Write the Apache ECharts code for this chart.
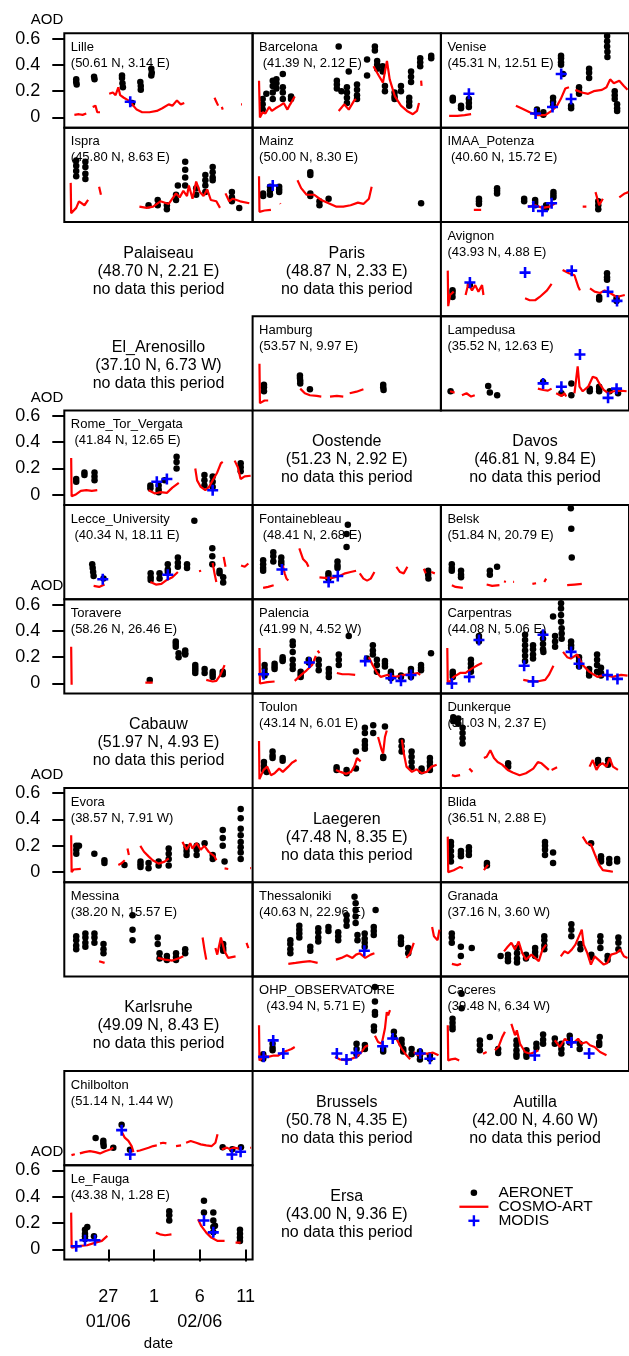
<!DOCTYPE html>
<html><head><meta charset="utf-8">
<script src="https://cdn.jsdelivr.net/npm/echarts@6/dist/echarts.min.js"></script>
<style>html,body{margin:0;padding:0;background:#fff}#c{width:629px;height:1356px}</style>
</head><body><div id="c"></div>
<script>
// ---------------- tick labels ----------------
const xTickValues = [27, 32, 37, 42];
const xTickLabels = ['27\n01/06', '1', '6\n02/06', '11'];
const yTickValues = [0, 0.2, 0.4, 0.6];
const yTickLabels = ['0', '0.2', '0.4', '0.6'];

// ---------------- data: [day, AOD]  (day: Jan d = d, Feb d = 31+d) ----------------
const lilleAer = [[23.5,0.29],[23.5,0.27],[23.55,0.25],[25.45,0.31],[25.5,0.29],[28.5,0.32],[28.5,0.30],[28.55,0.26],[28.6,0.23],[29.6,0.11],[30.5,0.27],[30.55,0.24],[30.55,0.21],[31.7,0.37],[31.75,0.34],[31.7,0.32]];
const lilleCos = [[[23.3,0.02],[23.8,0.025],[24.2,0.02],[24.6,0.03]],[[25.3,0.08],[25.6,0.09],[25.8,0.04],[26.1,0.04]],[[27.1,0.18],[27.5,0.19],[27.8,0.17],[28.1,0.23],[28.3,0.17],[28.7,0.15],[29.2,0.13],[29.6,0.10],[30.1,0.06],[30.7,0.04],[31.5,0.04],[32.3,0.05],[32.9,0.07],[33.6,0.10],[34.0,0.09],[34.5,0.13],[34.9,0.10],[35.3,0.11]],[[38.6,0.15],[38.8,0.12],[39.0,0.09]],[[39.4,0.08],[39.5,0.06]],[[41.5,0.10],[41.6,0.10]]];
const lilleMod = [[29.4,0.12]];

const barcelonaAer = [[23.3,0.14],[23.3,0.10],[23.3,0.06],[23.7,0.18],[24.4,0.28],[24.4,0.24],[24.4,0.19],[24.4,0.14],[24.8,0.29],[24.8,0.26],[24.8,0.22],[25.5,0.33],[25.5,0.23],[25.5,0.19],[25.5,0.14],[26.4,0.16],[26.4,0.14],[31.4,0.28],[31.4,0.25],[31.4,0.22],[31.6,0.54],[31.9,0.20],[32.5,0.23],[32.5,0.19],[32.5,0.15],[32.5,0.11],[32.7,0.35],[33.6,0.25],[33.6,0.21],[33.6,0.17],[33.6,0.14],[34.7,0.44],[34.7,0.32],[35.55,0.54],[35.55,0.51],[35.8,0.43],[35.8,0.40],[35.8,0.37],[36.4,0.39],[36.4,0.35],[36.65,0.24],[36.65,0.20],[37.7,0.19],[37.7,0.16],[37.7,0.14],[38.4,0.24],[38.4,0.20],[39.3,0.15],[39.3,0.12],[39.3,0.09],[39.5,0.35],[39.5,0.31],[39.5,0.27],[40.5,0.45],[40.5,0.42],[40.5,0.39],[41.7,0.47],[41.7,0.45]];
const barcelonaCos = [[[22.9,0.28],[23.0,0.0],[23.3,0.04],[23.6,0.03],[24.0,0.08],[24.3,0.05],[24.7,0.07],[25.2,0.09],[25.6,0.11],[26.0,0.06],[26.3,0.10],[26.8,0.16]],[[31.6,0.05],[32.2,0.10],[32.7,0.06],[33.3,0.13],[33.5,0.14]],[[35.4,0.39],[36.0,0.315],[36.43,0.265],[36.87,0.43],[37.17,0.29],[37.74,0.16],[38.4,0.09],[39.06,0.05],[39.7,0.025],[40.15,0.05],[40.37,0.11]],[[40.6,0.28],[40.65,0.24]]];
const barcelonaMod = [];

const veniseAer = [[23.5,0.15],[23.5,0.14],[23.5,0.13],[24.4,0.09],[24.4,0.07],[25.26,0.14],[25.26,0.11],[25.26,0.08],[32.7,0.06],[32.7,0.04],[33.4,0.04],[33.4,0.02],[34.46,0.15],[34.46,0.12],[34.46,0.09],[35.33,0.47],[35.33,0.45],[35.33,0.42],[35.33,0.40],[35.55,0.33],[36.43,0.09],[36.43,0.07],[37.3,0.23],[37.3,0.20],[37.3,0.18],[38.4,0.37],[38.4,0.34],[38.4,0.30],[40.37,0.62],[40.37,0.58],[40.37,0.54],[40.4,0.50],[40.4,0.46],[41.2,0.20],[41.2,0.17],[41.2,0.14],[41.46,0.10],[41.46,0.07],[41.46,0.05]];
const veniseCos = [[[23.1,0.012],[24.0,0.012],[24.8,0.018],[25.5,0.025]],[[30.4,0.09],[31.0,0.07],[31.9,0.04],[32.7,0.018],[33.6,0.018],[34.3,0.05],[34.9,0.09],[35.3,0.14],[35.8,0.22],[36.2,0.23]],[[36.9,0.21],[37.6,0.19],[38.3,0.18],[38.9,0.20],[39.8,0.21],[40.3,0.23],[40.7,0.29],[41.1,0.26],[41.7,0.28],[42.2,0.24],[42.6,0.21]]];
const veniseMod = [[25.26,0.18],[32.55,0.03],[34.4,0.08],[35.35,0.33],[36.43,0.14]];

const ispraAer = [[23.5,0.39],[23.5,0.35],[23.5,0.31],[23.5,0.27],[24.5,0.38],[24.5,0.34],[24.5,0.29],[24.5,0.25],[31.4,0.05],[32.4,0.09],[32.4,0.05],[33.4,0.05],[33.4,0.02],[34.4,0.13],[34.4,0.09],[34.6,0.20],[35.4,0.38],[35.4,0.32],[35.4,0.26],[35.4,0.20],[36.6,0.18],[36.6,0.13],[37.6,0.28],[37.6,0.24],[37.6,0.20],[37.6,0.15],[38.4,0.34],[38.4,0.30],[38.4,0.26],[38.4,0.24],[40.5,0.15],[40.5,0.11],[40.5,0.08],[41.3,0.03]];
const ispraCos = [[[22.9,0.22],[22.95,-0.01],[23.1,0.0],[23.5,0.03],[23.8,0.08],[24.4,0.05],[24.8,0.09]],[[26.0,0.19],[26.2,0.13]],[[30.4,0.04],[31.2,0.03],[31.9,0.04],[32.7,0.08],[33.6,0.06],[34.4,0.14],[34.8,0.11],[35.2,0.16],[35.6,0.12],[35.8,0.20],[36.2,0.10],[36.6,0.23],[37.0,0.15],[37.4,0.12],[37.8,0.17],[38.2,0.09],[38.8,0.08],[39.2,0.03]],[[39.8,0.14],[40.2,0.08],[40.6,0.10],[41.4,0.08],[42.4,0.065]]];
const ispraMod = [];

const mainzAer = [[23.35,0.14],[23.35,0.12],[24.1,0.19],[24.1,0.16],[24.1,0.13],[25.1,0.19],[25.1,0.17],[25.1,0.15],[28.5,0.30],[28.5,0.28],[28.5,0.14],[28.5,0.12],[29.5,0.08],[29.5,0.05],[30.5,0.10],[40.6,0.065]];
const mainzCos = [[[22.9,0.27],[22.95,0.0],[23.5,0.01],[24.2,0.015]],[[25.2,0.065],[25.25,0.06]],[[27.1,0.24],[27.5,0.18],[28.1,0.13],[28.9,0.13],[29.7,0.09],[30.5,0.065],[31.3,0.04],[32.1,0.04],[32.9,0.05],[33.7,0.07],[34.3,0.06],[34.9,0.10],[35.2,0.19]],[[36.0,0.04],[36.05,0.04]]];
const mainzMod = [[24.4,0.20]];

const imaaAer = [[26.36,0.10],[26.36,0.08],[26.36,0.06],[28.34,0.18],[28.34,0.16],[28.34,0.14],[31.3,0.10],[31.3,0.08],[32.5,0.09],[32.5,0.07],[32.5,0.05],[33.7,0.05],[33.7,0.03],[34.5,0.15],[34.5,0.13],[34.5,0.11],[39.4,0.08],[39.4,0.05],[39.4,0.02]];
const imaaCos = [[[25.8,0.015],[26.6,0.015]],[[31.7,0.04],[32.5,0.05],[33.3,0.03],[34.1,0.04],[34.7,0.065]],[[37.7,0.04],[38.1,0.04]],[[39.1,0.15],[39.5,0.05],[39.9,0.10]],[[41.7,0.11],[42.3,0.14],[42.7,0.15]]];
const imaaMod = [[32.3,0.04],[33.3,0.006],[34.3,0.065]];

const avignonAer = [[23.47,0.12],[23.47,0.10],[23.47,0.07],[25.37,0.16],[39.5,0.07],[39.5,0.05],[40.36,0.25],[40.36,0.22],[40.36,0.20],[41.4,0.06],[41.4,0.04]];
const avignonCos = [[[22.95,0.27],[23.0,0.0],[23.2,0.085],[23.6,0.11]],[[24.9,0.085],[25.2,0.17],[25.6,0.12],[25.95,0.16],[26.3,0.11],[26.7,0.16],[26.85,0.085]],[[30.5,0.075],[30.55,0.075]],[[31.4,0.06],[31.9,0.045],[32.5,0.045],[33.0,0.07],[33.8,0.12],[34.3,0.17]],[[35.5,0.275],[36.2,0.25],[36.8,0.235],[37.2,0.15],[37.4,0.12]],[[38.5,0.135],[39.0,0.11],[39.6,0.10],[40.1,0.12],[40.7,0.10],[41.4,0.07],[42.3,0.085]]];
const avignonMod = [[25.37,0.18],[31.4,0.255],[36.5,0.27],[40.46,0.11],[41.45,0.04]];

const hamburgAer = [[23.44,0.12],[23.44,0.10],[23.44,0.07],[27.37,0.19],[27.37,0.17],[27.4,0.15],[27.4,0.13],[28.46,0.085],[36.46,0.12],[36.46,0.10],[36.5,0.08]];
const hamburgCos = [[[22.95,0.28],[23.0,-0.02],[23.5,0.0],[23.9,0.0]],[[27.4,0.09],[27.9,0.055],[28.46,0.04],[29.2,0.035],[29.7,0.03]],[[30.65,0.03],[31.4,0.035],[32.1,0.03]],[[32.8,0.055],[33.55,0.067],[34.3,0.085]]];
const hamburgMod = [];

const lampedusaAer = [[23.26,0.07],[27.37,0.11],[27.55,0.06],[28.35,0.04],[33.37,0.14],[35.37,0.055],[36.46,0.13],[36.46,0.04],[38.47,0.09],[38.47,0.07],[39.5,0.105],[39.5,0.09],[39.5,0.07],[40.65,0.07],[41.56,0.055]];
const lampedusaCos = [[[23.2,0.07],[23.7,0.06]],[[24.5,0.04],[25.0,0.055],[25.5,0.03],[25.9,0.04]],[[32.8,0.09],[33.4,0.08],[33.9,0.075],[34.3,0.09]],[[34.8,0.055],[35.4,0.035],[35.7,0.055],[35.9,0.03]],[[36.8,0.055],[37.15,0.26],[37.35,0.105],[37.7,0.07],[38.3,0.105],[38.8,0.18],[39.2,0.17],[39.6,0.12],[40.0,0.08],[40.5,0.055],[41.1,0.07],[41.8,0.075],[42.5,0.07]]];
const lampedusaMod = [[33.37,0.13],[35.37,0.105],[37.4,0.35],[40.47,0.02],[41.4,0.09]];

const romeAer = [[23.5,0.12],[23.5,0.10],[24.4,0.17],[24.4,0.15],[25.5,0.17],[25.5,0.14],[25.5,0.11],[31.6,0.07],[31.6,0.05],[32.5,0.07],[32.5,0.04],[32.5,0.02],[33.15,0.11],[34.46,0.29],[34.46,0.25],[34.46,0.20],[37.5,0.15],[37.5,0.11],[37.5,0.07],[38.4,0.14],[38.4,0.10],[38.4,0.06],[41.46,0.24],[41.46,0.21],[41.46,0.18]];
const romeCos = [[[22.95,0.28],[23.0,-0.01],[23.4,0.0],[24.0,0.03],[24.6,0.035],[25.2,0.03],[25.8,0.035]],[[31.4,0.035],[32.1,0.01],[32.7,0.02],[33.4,0.015],[34.0,0.055],[34.7,0.09]],[[36.5,0.20],[36.7,0.11],[37.1,0.06],[37.6,0.035],[38.0,0.06],[38.4,0.11],[38.9,0.17],[39.3,0.24],[39.5,0.25]],[[40.8,0.26],[41.15,0.21],[41.45,0.12],[41.9,0.14],[42.55,0.145]]];
const romeMod = [[32.3,0.10],[33.4,0.12],[38.4,0.035]];

const lecceAer = [[25.25,0.19],[25.3,0.16],[25.35,0.13],[25.4,0.10],[26.48,0.08],[31.63,0.12],[31.63,0.09],[31.63,0.07],[32.6,0.12],[32.6,0.08],[33.5,0.19],[33.5,0.15],[33.5,0.13],[34.6,0.24],[34.6,0.20],[34.6,0.17],[35.6,0.19],[35.6,0.16],[36.4,0.52],[38.36,0.31],[38.36,0.25],[38.36,0.19],[39.15,0.14],[39.15,0.12],[39.55,0.09],[39.55,0.05]];
const lecceCos = [[[25.4,0.025],[26.0,0.017],[26.6,0.035]],[[30.1,0.055],[30.15,0.055]],[[31.6,0.055],[32.2,0.035],[32.8,0.04],[33.4,0.07],[34.0,0.09],[34.6,0.13]],[[37.0,0.145],[37.05,0.13]],[[38.4,0.20],[38.6,0.12],[38.8,0.055]],[[39.6,0.245],[39.8,0.17]],[[41.5,0.18],[41.9,0.17],[42.3,0.195]]];
const lecceMod = [[26.4,0.075],[33.5,0.11]];

const fontainebleauAer = [[23.35,0.22],[23.35,0.19],[23.35,0.16],[23.35,0.14],[24.46,0.28],[24.46,0.25],[24.46,0.21],[25.33,0.24],[25.33,0.21],[25.33,0.19],[30.48,0.12],[30.48,0.10],[30.48,0.08],[31.47,0.21],[31.47,0.18],[31.47,0.16],[32.46,0.32],[32.46,0.42],[32.6,0.49],[41.37,0.14],[41.37,0.11],[41.4,0.08]];
const fontainebleauCos = [[[23.35,0.01],[23.9,0.017],[24.5,0.03]],[[25.5,0.18],[25.7,0.12],[25.9,0.08],[26.1,0.065]],[[27.3,0.31],[27.7,0.23],[28.1,0.20],[28.3,0.17]],[[29.5,0.09],[30.1,0.085],[30.9,0.085],[31.7,0.10],[32.3,0.12],[32.9,0.13],[33.5,0.14]],[[33.9,0.12],[34.3,0.08],[34.7,0.065],[35.1,0.08],[35.5,0.13]],[[37.9,0.17],[38.3,0.13],[38.7,0.12],[39.1,0.17]],[[40.9,0.155],[41.1,0.12]],[[41.7,0.13],[42.1,0.12]]];
const fontainebleauMod = [[25.4,0.15],[30.5,0.055],[31.5,0.10]];

const belskAer = [[23.39,0.19],[23.39,0.16],[23.39,0.14],[24.4,0.14],[24.4,0.11],[24.4,0.09],[27.55,0.14],[27.55,0.11],[28.34,0.17],[36.4,0.615],[36.45,0.46],[36.5,0.24]];
const belskCos = [[[23.4,0.03],[23.8,0.017],[24.6,0.01]],[[27.2,0.035],[27.8,0.025],[28.6,0.03]],[[29.1,0.06],[29.3,0.055]],[[30.1,0.055],[30.2,0.055]],[[32.2,0.04],[32.6,0.045]],[[33.5,0.055],[33.7,0.08]],[[36.0,0.03],[36.8,0.035],[37.6,0.04]]];
const belskMod = [];

const toravereAer = [[31.53,0.027],[34.37,0.32],[34.37,0.30],[34.37,0.28],[34.68,0.23],[34.68,0.20],[35.4,0.25],[35.4,0.23],[35.4,0.22],[36.5,0.14],[36.5,0.12],[36.5,0.10],[36.5,0.08],[37.52,0.11],[37.52,0.08],[38.4,0.09],[38.4,0.07],[38.4,0.05],[39.5,0.09],[39.5,0.07]];
const toravereCos = [[[22.95,0.28],[23.0,-0.01]],[[31.05,0.006],[31.85,0.006]],[[37.7,0.027],[38.4,0.015],[38.8,0.02],[39.25,0.065],[39.7,0.14]]];
const toravereMod = [];

const palenciaAer = [[23.51,0.14],[23.51,0.11],[23.51,0.08],[23.51,0.06],[24.6,0.15],[24.6,0.13],[24.6,0.11],[25.48,0.20],[25.48,0.18],[25.48,0.17],[26.58,0.32],[26.58,0.29],[26.58,0.24],[26.58,0.18],[26.58,0.14],[26.58,0.11],[27.45,0.09],[27.45,0.07],[27.45,0.05],[28.33,0.18],[28.33,0.16],[29.42,0.18],[29.42,0.14],[29.42,0.10],[30.52,0.11],[30.52,0.08],[30.52,0.05],[31.61,0.22],[31.61,0.18],[31.61,0.14],[32.7,0.36],[34.68,0.19],[35.33,0.29],[35.33,0.25],[35.33,0.22],[35.77,0.18],[35.77,0.14],[35.77,0.09],[36.65,0.17],[36.65,0.15],[36.65,0.13],[37.3,0.09],[37.3,0.07],[37.3,0.04],[38.4,0.06],[38.4,0.05],[39.49,0.11],[39.49,0.08],[39.49,0.05],[40.59,0.14],[40.59,0.12],[40.59,0.10],[41.68,0.23]];
const palenciaCos = [[[22.95,0.27],[23.0,0.0],[23.1,0.01],[23.8,0.01],[24.6,0.015]],[[26.8,0.02],[27.5,0.065],[28.1,0.10],[28.7,0.14],[29.1,0.21]],[[29.3,0.25],[29.5,0.23]],[[31.4,0.08],[32.0,0.07],[32.7,0.07],[33.4,0.065]],[[34.9,0.20],[35.3,0.14],[35.8,0.08],[36.2,0.05],[36.9,0.065],[37.8,0.05],[38.7,0.065],[39.6,0.07],[40.2,0.08],[40.5,0.065]]];
const palenciaMod = [[23.4,0.07],[28.4,0.16],[34.5,0.17],[37.3,0.04],[38.4,0.02],[39.5,0.065]];

const carpentrasAer = [[23.5,0.09],[23.5,0.07],[23.5,0.05],[25.48,0.18],[25.48,0.15],[25.48,0.12],[25.48,0.09],[26.36,0.36],[26.36,0.34],[26.36,0.32],[31.4,0.37],[31.4,0.33],[31.4,0.29],[31.4,0.25],[31.4,0.21],[31.4,0.17],[32.27,0.29],[32.27,0.26],[32.27,0.22],[32.27,0.19],[33.36,0.38],[33.36,0.34],[33.36,0.30],[33.36,0.26],[33.4,0.24],[34.46,0.51],[34.68,0.36],[34.68,0.32],[34.68,0.28],[35.33,0.61],[35.33,0.57],[35.33,0.52],[35.33,0.47],[35.4,0.42],[35.4,0.38],[35.4,0.34],[36.43,0.32],[36.43,0.29],[36.43,0.27],[37.3,0.20],[37.3,0.17],[37.3,0.13],[38.4,0.11],[38.4,0.08],[38.4,0.06],[39.27,0.22],[39.27,0.18],[39.27,0.14],[39.27,0.09],[39.7,0.12],[39.7,0.08],[39.7,0.06]];
const carpentrasCos = [[[22.9,0.27],[22.95,0.0],[23.6,0.05],[24.3,0.08],[24.9,0.08],[25.6,0.115],[26.25,0.14],[26.7,0.155]],[[31.2,0.027],[31.8,0.02],[32.7,0.015],[33.6,0.027],[34.0,0.065],[34.5,0.135]],[[35.55,0.24],[36.0,0.20],[36.4,0.19],[37.1,0.22],[37.7,0.14],[38.4,0.09],[39.3,0.05],[40.1,0.065],[41.0,0.05],[41.9,0.065],[42.6,0.06]]];
const carpentrasMod = [[23.4,0.0],[25.3,0.05],[26.36,0.33],[31.3,0.135],[32.27,0.015],[33.36,0.37],[36.43,0.24],[37.3,0.15],[40.4,0.065],[41.5,0.035]];

const toulonAer = [[23.44,0.12],[23.44,0.09],[23.44,0.06],[23.73,0.045],[24.38,0.20],[24.38,0.17],[24.38,0.15],[25.48,0.15],[25.48,0.13],[31.37,0.08],[31.37,0.06],[32.46,0.06],[32.46,0.035],[33.48,0.20],[33.48,0.07],[34.46,0.38],[34.46,0.34],[34.46,0.28],[34.46,0.25],[34.46,0.22],[35.37,0.40],[35.37,0.34],[36.46,0.16],[36.46,0.15],[36.65,0.39],[38.47,0.28],[38.47,0.24],[38.47,0.20],[39.56,0.20],[39.56,0.16],[39.56,0.12],[39.56,0.08],[40.65,0.07],[40.65,0.05],[41.56,0.15],[41.56,0.12],[41.56,0.09],[41.56,0.06]];
const toulonCos = [[[22.9,0.28],[22.95,-0.01],[23.4,0.06],[23.8,0.085],[24.2,0.02],[24.6,0.035],[25.1,0.07],[25.5,0.045],[26.1,0.085],[26.5,0.115],[27.0,0.135]],[[31.3,0.06],[31.8,0.045],[32.4,0.03],[32.95,0.045],[33.3,0.085],[33.6,0.15],[34.0,0.125]],[[35.9,0.31],[36.3,0.21],[36.45,0.185],[36.65,0.31],[36.85,0.36]],[[38.5,0.29],[38.7,0.19],[39.0,0.085],[39.6,0.045],[40.1,0.065],[40.65,0.035],[41.2,0.045],[41.75,0.085],[42.3,0.10]]];
const toulonMod = [];

const dunkerqueAer = [[23.55,0.46],[23.55,0.43],[24.1,0.45],[24.1,0.41],[24.57,0.38],[24.57,0.34],[24.57,0.30],[24.57,0.26],[29.55,0.11],[29.55,0.085],[39.38,0.135],[39.38,0.11],[40.47,0.135],[40.47,0.10]];
const dunkerqueCos = [[[23.4,0.02],[23.75,0.013],[24.3,0.02]],[[25.3,0.07],[25.65,0.045]],[[26.9,0.15],[27.2,0.16],[27.6,0.21],[28.0,0.15],[28.4,0.12],[28.9,0.10],[29.5,0.06],[30.05,0.04],[30.8,0.02],[31.5,0.035],[32.3,0.07],[32.8,0.12],[33.2,0.11],[33.6,0.085],[34.0,0.06]],[[34.3,0.06],[34.9,0.08]],[[38.45,0.085],[38.8,0.135],[39.2,0.06],[39.55,0.10],[39.9,0.11],[40.3,0.085],[40.65,0.15],[41.0,0.085],[41.55,0.06]]];
const dunkerqueMod = [];

const evoraAer = [[23.51,0.20],[23.51,0.17],[23.51,0.14],[23.8,0.20],[25.48,0.14],[26.58,0.09],[26.58,0.07],[28.77,0.055],[30.52,0.08],[30.52,0.06],[30.52,0.04],[31.4,0.07],[31.4,0.03],[32.5,0.08],[32.5,0.05],[33.6,0.18],[33.6,0.14],[33.6,0.10],[33.6,0.05],[35.55,0.19],[35.55,0.16],[35.55,0.13],[36.65,0.20],[36.65,0.17],[36.65,0.13],[37.52,0.22],[38.4,0.13],[38.4,0.10],[39.5,0.32],[39.5,0.26],[39.5,0.20],[39.7,0.08],[41.46,0.48],[41.46,0.41],[41.46,0.33],[41.46,0.28],[41.46,0.23],[41.46,0.19],[41.46,0.15],[41.46,0.10]];
const evoraCos = [[[22.95,0.28],[23.0,0.0],[23.2,0.02],[24.0,0.025]],[[28.1,0.055],[28.4,0.065],[28.8,0.09]],[[29.1,0.18],[29.25,0.13]],[[30.5,0.20],[30.9,0.155],[31.4,0.12],[31.85,0.09],[32.5,0.065],[33.15,0.08],[33.6,0.105]],[[35.1,0.23],[35.55,0.17],[35.95,0.22],[36.2,0.18],[36.65,0.22],[37.1,0.17],[37.5,0.20],[37.96,0.155],[38.6,0.12],[38.8,0.09]],[[39.7,0.028],[40.1,0.024]],[[42.5,0.03],[42.6,0.03]]];
const evoraMod = [];

const blidaAer = [[23.3,0.23],[23.3,0.20],[23.3,0.16],[23.3,0.12],[23.3,0.08],[24.39,0.16],[24.39,0.14],[24.39,0.12],[25.26,0.19],[25.26,0.16],[25.26,0.13],[27.23,0.07],[27.23,0.05],[33.58,0.23],[33.58,0.20],[33.58,0.17],[33.58,0.13],[34.46,0.15],[34.46,0.07],[38.62,0.22],[39.7,0.12],[39.7,0.10],[39.7,0.08],[40.6,0.10],[40.6,0.07],[41.46,0.10],[41.46,0.08]];
const blidaCos = [[[22.95,0.27],[23.0,0.0],[23.6,0.015],[24.3,0.04],[24.6,0.03]],[[26.9,0.015],[27.35,0.055]],[[33.4,0.08],[33.45,0.08]],[[37.7,0.27],[38.15,0.22],[38.6,0.21],[39.0,0.14],[39.5,0.055],[39.9,0.015],[40.6,0.008],[41.0,0.003]]];
const blidaMod = [];

const messinaAer = [[23.5,0.23],[23.5,0.20],[23.5,0.16],[23.5,0.13],[24.5,0.25],[24.5,0.22],[24.5,0.18],[24.5,0.15],[25.49,0.25],[25.49,0.22],[25.49,0.18],[26.48,0.17],[26.48,0.13],[26.48,0.10],[29.65,0.28],[29.65,0.20],[29.65,0.39],[32.4,0.22],[32.4,0.17],[32.6,0.10],[32.6,0.06],[33.4,0.08],[33.4,0.05],[34.4,0.10],[34.4,0.07],[34.4,0.05],[35.4,0.13],[35.4,0.10],[39.55,0.17],[39.55,0.14],[39.55,0.12]];
const messinaCos = [[[26.0,0.04],[26.6,0.027]],[[32.4,0.065],[33.2,0.052],[34.0,0.045],[34.8,0.065],[35.2,0.077]],[[37.3,0.22],[37.5,0.13],[37.7,0.052]],[[38.1,0.11],[38.15,0.11]],[[38.7,0.14],[38.9,0.09],[39.3,0.22],[39.7,0.115],[40.1,0.065],[40.9,0.077]],[[42.1,0.18],[42.3,0.14]]];
const messinaMod = [];

const thessalonikiAer = [[26.32,0.20],[26.32,0.17],[26.32,0.13],[26.32,0.10],[27.3,0.31],[27.3,0.28],[27.3,0.25],[27.3,0.22],[28.5,0.15],[28.5,0.12],[29.37,0.29],[29.37,0.26],[29.37,0.22],[29.37,0.19],[30.48,0.30],[30.48,0.27],[31.55,0.26],[31.55,0.23],[31.55,0.20],[32.46,0.39],[32.46,0.35],[32.46,0.31],[33.33,0.53],[33.45,0.48],[33.45,0.43],[33.45,0.38],[33.45,0.33],[33.65,0.24],[33.65,0.20],[34.44,0.25],[34.44,0.21],[34.44,0.18],[34.44,0.15],[35.43,0.30],[35.43,0.27],[35.43,0.24],[35.63,0.43],[38.4,0.22],[38.4,0.19],[38.4,0.17],[39.19,0.14],[39.19,0.10]];
const thessalonikiCos = [[[26.1,0.02],[26.9,0.027],[27.7,0.035],[28.5,0.04],[29.3,0.027]],[[30.1,0.052],[30.15,0.052]],[[31.3,0.052],[31.9,0.065],[32.5,0.085],[33.1,0.065],[33.5,0.09],[33.9,0.10],[34.5,0.065],[35.1,0.09],[35.5,0.10]],[[39.0,0.065],[39.4,0.10],[39.8,0.18]],[[41.8,0.30],[42.0,0.23],[42.4,0.20],[42.6,0.28]]];
const thessalonikiMod = [[34.4,0.12]];

const granadaAer = [[23.39,0.25],[23.39,0.22],[23.39,0.18],[24.38,0.15],[24.38,0.08],[25.57,0.14],[28.73,0.08],[29.53,0.09],[29.53,0.06],[29.53,0.04],[30.52,0.14],[30.52,0.10],[30.52,0.06],[30.52,0.03],[31.5,0.09],[31.5,0.06],[32.5,0.14],[32.5,0.11],[32.5,0.08],[33.5,0.23],[33.5,0.20],[33.5,0.16],[33.5,0.13],[36.46,0.32],[36.46,0.28],[36.46,0.23],[37.45,0.17],[37.45,0.13],[38.64,0.09],[38.64,0.07],[39.63,0.23],[39.63,0.19],[39.63,0.14],[40.42,0.08],[40.42,0.05],[41.6,0.22],[41.6,0.18],[41.6,0.13]];
const granadaCos = [[[23.4,0.02],[24.0,0.01],[24.4,0.02]],[[27.0,0.027],[27.05,0.027]],[[29.1,0.115],[29.5,0.15],[29.9,0.18],[30.3,0.13],[30.7,0.19],[31.1,0.10],[31.5,0.052],[32.1,0.09],[32.5,0.065],[32.9,0.04],[33.3,0.128],[33.7,0.166]],[[35.3,0.077],[35.7,0.115],[36.1,0.10],[36.5,0.128],[36.9,0.166],[37.6,0.28],[37.8,0.166],[38.2,0.102],[38.6,0.014],[39.0,0.077],[39.4,0.052],[40.0,0.014],[40.4,0.027],[40.8,0.09],[41.4,0.102],[41.8,0.128],[42.2,0.077],[42.6,0.065]]];
const granadaMod = [];

const ohpAer = [[23.36,0.05],[23.36,0.03],[23.36,0.016],[24.38,0.13],[24.38,0.10],[24.38,0.08],[33.55,0.13],[33.55,0.09],[33.55,0.05],[34.46,0.12],[34.46,0.09],[35.45,0.26],[35.45,0.23],[35.56,0.56],[35.56,0.45],[35.56,0.37],[35.56,0.35],[36.46,0.09],[36.46,0.07],[37.63,0.22],[37.63,0.18],[38.47,0.16],[38.47,0.13],[38.65,0.09],[38.65,0.07],[39.56,0.09],[39.56,0.05],[40.47,0.07],[40.47,0.04],[40.47,0.01],[41.56,0.04],[41.56,0.016]];
const ohpCos = [[[22.9,0.27],[22.95,0.003],[23.5,0.04],[23.9,0.03],[24.5,0.04],[25.0,0.04],[25.55,0.067],[26.1,0.08],[26.45,0.09],[26.8,0.105]],[[31.2,0.03],[31.75,0.01],[32.5,0.003],[33.0,0.016],[33.55,0.03],[34.1,0.067],[34.46,0.105],[34.8,0.118]],[[35.56,0.19],[35.9,0.143],[36.3,0.13],[36.65,0.245],[36.85,0.37],[37.0,0.345],[37.2,0.385]],[[37.9,0.168],[38.47,0.093],[39.0,0.042],[39.4,0.011]],[[39.8,0.067],[40.3,0.042],[40.9,0.054],[41.4,0.054],[41.9,0.062],[42.5,0.042]]];
const ohpMod = [[23.4,0.03],[24.45,0.155],[25.55,0.055],[31.4,0.055],[32.45,0.01],[33.5,0.06],[36.4,0.11],[37.5,0.17],[40.5,0.055],[41.56,0.016]];

const caceresAer = [[23.47,0.32],[23.47,0.29],[23.47,0.26],[23.47,0.24],[24.46,0.51],[24.46,0.40],[26.46,0.155],[26.46,0.12],[26.46,0.08],[27.55,0.18],[28.46,0.09],[28.46,0.06],[30.46,0.155],[30.46,0.12],[30.46,0.08],[30.46,0.05],[30.46,0.03],[31.55,0.08],[31.55,0.05],[31.55,0.03],[32.64,0.13],[32.64,0.10],[33.37,0.20],[33.37,0.16],[33.37,0.13],[34.65,0.17],[34.65,0.13],[35.37,0.13],[35.37,0.09],[35.37,0.055],[36.28,0.19],[36.28,0.16],[36.28,0.14],[37.37,0.13],[37.37,0.09],[39.56,0.18],[39.5,0.14],[39.5,0.12]];
const caceresCos = [[[22.95,0.27],[23.0,0.003],[23.3,0.011],[23.8,0.016],[24.2,0.003]],[[26.8,0.054],[27.2,0.067]],[[28.1,0.08],[28.5,0.105],[28.9,0.18],[29.2,0.22]],[[29.9,0.28],[30.3,0.194],[30.5,0.232],[30.85,0.13],[31.4,0.067],[31.95,0.054],[32.5,0.067],[32.85,0.08]],[[34.65,0.156],[35.2,0.105],[35.75,0.168],[36.3,0.13],[36.8,0.143],[37.2,0.168],[37.55,0.13],[38.1,0.143],[38.5,0.118],[39.0,0.105],[39.6,0.067],[40.3,0.042]]];
const caceresMod = [[32.46,0.04],[36.46,0.14],[38.4,0.055]];

const chilboltonAer = [[25.62,0.13],[26.46,0.11],[26.46,0.09],[26.5,0.07],[27.55,0.057],[28.46,0.23],[29.37,0.04],[39.49,0.06],[40.54,0.045],[41.49,0.06]];
const chilboltonCos = [[[22.98,0.0],[23.35,0.007]],[[23.9,0.013],[24.4,0.023],[25.0,0.03],[25.6,0.023],[26.1,0.013],[26.65,0.03],[27.2,0.043],[27.55,0.057]],[[28.46,0.18],[28.8,0.133],[29.2,0.108],[29.55,0.069],[29.75,0.023]],[[30.1,0.03],[30.45,0.035],[30.8,0.043],[31.4,0.056],[31.9,0.069],[32.3,0.074]],[[32.65,0.089],[33.0,0.094],[33.35,0.089]],[[34.4,0.069],[34.95,0.074]],[[35.5,0.094],[36.0,0.107],[36.6,0.094],[37.1,0.082],[37.7,0.074],[38.3,0.069],[38.7,0.094],[38.93,0.158]],[[39.4,0.044],[39.95,0.057],[40.3,0.044],[40.7,0.057],[41.25,0.05]],[[42.5,0.056],[42.6,0.056]]];
const chilboltonMod = [[28.46,0.19],[29.4,0.005],[40.5,0.005],[41.45,0.025]];

const lefaugaAer = [[24.46,0.15],[24.46,0.12],[24.46,0.10],[24.46,0.08],[24.71,0.17],[25.44,0.10],[33.66,0.29],[33.66,0.26],[33.66,0.22],[37.45,0.37],[37.45,0.28],[38.47,0.28],[38.47,0.22],[38.47,0.17],[38.47,0.13],[38.65,0.18],[41.38,0.15],[41.38,0.12],[41.38,0.09],[41.38,0.065]];
const lefaugaCos = [[[22.95,0.28],[23.0,0.013],[23.95,0.027],[24.7,0.032],[25.6,0.052],[26.3,0.065],[26.9,0.103]],[[32.2,0.128],[32.65,0.115],[33.2,0.108],[33.9,0.115]],[[36.8,0.23],[37.15,0.179],[37.7,0.128],[38.25,0.09],[38.95,0.065],[39.7,0.065]],[[40.9,0.052],[41.45,0.052]]];
const lefaugaMod = [[23.5,0.025],[24.46,0.07],[25.55,0.07],[37.45,0.22],[38.47,0.13]];

// ---------------- stations ----------------
const stationInfo = {
  'Lille': {coord:'(50.61 N, 3.14 E)', aer:lilleAer, cos:lilleCos, mod:lilleMod},
  'Barcelona': {coord:' (41.39 N, 2.12 E)', aer:barcelonaAer, cos:barcelonaCos, mod:barcelonaMod},
  'Venise': {coord:'(45.31 N, 12.51 E)', aer:veniseAer, cos:veniseCos, mod:veniseMod},
  'Ispra': {coord:'(45.80 N, 8.63 E)', aer:ispraAer, cos:ispraCos, mod:ispraMod},
  'Mainz': {coord:'(50.00 N, 8.30 E)', aer:mainzAer, cos:mainzCos, mod:mainzMod},
  'IMAA_Potenza': {coord:' (40.60 N, 15.72 E)', aer:imaaAer, cos:imaaCos, mod:imaaMod},
  'Palaiseau': {coord:'(48.70 N, 2.21 E)'},
  'Paris': {coord:'(48.87 N, 2.33 E)'},
  'Avignon': {coord:'(43.93 N, 4.88 E)', aer:avignonAer, cos:avignonCos, mod:avignonMod},
  'El_Arenosillo': {coord:'(37.10 N, 6.73 W)'},
  'Hamburg': {coord:'(53.57 N, 9.97 E)', aer:hamburgAer, cos:hamburgCos, mod:hamburgMod},
  'Lampedusa': {coord:'(35.52 N, 12.63 E)', aer:lampedusaAer, cos:lampedusaCos, mod:lampedusaMod},
  'Rome_Tor_Vergata': {coord:' (41.84 N, 12.65 E)', aer:romeAer, cos:romeCos, mod:romeMod},
  'Oostende': {coord:'(51.23 N, 2.92 E)'},
  'Davos': {coord:'(46.81 N, 9.84 E)'},
  'Lecce_University': {coord:' (40.34 N, 18.11 E)', aer:lecceAer, cos:lecceCos, mod:lecceMod},
  'Fontainebleau': {coord:' (48.41 N, 2.68 E)', aer:fontainebleauAer, cos:fontainebleauCos, mod:fontainebleauMod},
  'Belsk': {coord:'(51.84 N, 20.79 E)', aer:belskAer, cos:belskCos, mod:belskMod},
  'Toravere': {coord:'(58.26 N, 26.46 E)', aer:toravereAer, cos:toravereCos, mod:toravereMod},
  'Palencia': {coord:'(41.99 N, 4.52 W)', aer:palenciaAer, cos:palenciaCos, mod:palenciaMod},
  'Carpentras': {coord:'(44.08 N, 5.06 E)', aer:carpentrasAer, cos:carpentrasCos, mod:carpentrasMod},
  'Cabauw': {coord:'(51.97 N, 4.93 E)'},
  'Toulon': {coord:'(43.14 N, 6.01 E)', aer:toulonAer, cos:toulonCos, mod:toulonMod},
  'Dunkerque': {coord:'(51.03 N, 2.37 E)', aer:dunkerqueAer, cos:dunkerqueCos, mod:dunkerqueMod},
  'Evora': {coord:'(38.57 N, 7.91 W)', aer:evoraAer, cos:evoraCos, mod:evoraMod},
  'Laegeren': {coord:'(47.48 N, 8.35 E)'},
  'Blida': {coord:'(36.51 N, 2.88 E)', aer:blidaAer, cos:blidaCos, mod:blidaMod},
  'Messina': {coord:'(38.20 N, 15.57 E)', aer:messinaAer, cos:messinaCos, mod:messinaMod},
  'Thessaloniki': {coord:'(40.63 N, 22.96 E)', aer:thessalonikiAer, cos:thessalonikiCos, mod:thessalonikiMod},
  'Granada': {coord:'(37.16 N, 3.60 W)', aer:granadaAer, cos:granadaCos, mod:granadaMod},
  'Karlsruhe': {coord:'(49.09 N, 8.43 E)'},
  'OHP_OBSERVATOIRE': {coord:'  (43.94 N, 5.71 E)', aer:ohpAer, cos:ohpCos, mod:ohpMod},
  'Caceres': {coord:'(39.48 N, 6.34 W)', aer:caceresAer, cos:caceresCos, mod:caceresMod},
  'Chilbolton': {coord:'(51.14 N, 1.44 W)', aer:chilboltonAer, cos:chilboltonCos, mod:chilboltonMod},
  'Brussels': {coord:'(50.78 N, 4.35 E)'},
  'Autilla': {coord:'(42.00 N, 4.60 W)'},
  'Le_Fauga': {coord:'(43.38 N, 1.28 E)', aer:lefaugaAer, cos:lefaugaCos, mod:lefaugaMod},
  'Ersa': {coord:'(43.00 N, 9.36 E)'}
};

const panelLayout = [
  ['Lille','Barcelona','Venise'],
  ['Ispra','Mainz','IMAA_Potenza'],
  ['Palaiseau','Paris','Avignon'],
  ['El_Arenosillo','Hamburg','Lampedusa'],
  ['Rome_Tor_Vergata','Oostende','Davos'],
  ['Lecce_University','Fontainebleau','Belsk'],
  ['Toravere','Palencia','Carpentras'],
  ['Cabauw','Toulon','Dunkerque'],
  ['Evora','Laegeren','Blida'],
  ['Messina','Thessaloniki','Granada'],
  ['Karlsruhe','OHP_OBSERVATOIRE','Caceres'],
  ['Chilbolton','Brussels','Autilla'],
  ['Le_Fauga','Ersa', 'LEGEND']
];
const axisRows = [0, 4, 6, 8, 12];

// ---------------- layout / style ----------------
const FONT = 'Liberation Sans, Arial, Helvetica, sans-serif';
const L0 = 64.3, CW = 188.3, T0 = 33.3, RH = 94.33;
const X_MIN = 22.2, X_MAX = 42.76, Y_MIN = -0.077, Y_MAX = 0.64;
const PLUS = 'path://M3.45,0H5.55V3.45H9V5.55H5.55V9H3.45V5.55H0V3.45H3.45Z';

function joinSegments(segs) {
  const out = [];
  segs.forEach((s, i) => {
    if (i > 0) out.push([s[0][0], '-']);
    s.forEach(p => out.push(p));
  });
  return out;
}
function txt(s, x, y, size, align) {
  return {type:'text', x:x, y:y, z:0, silent:true,
    style:{text:s, fontSize:size, fontFamily:FONT, fill:'#000', align:align, verticalAlign:'middle'}};
}

const grids = [], xAxes = [], yAxes = [], series = [], graphics = [];
let gi = 0;
panelLayout.forEach((rowArr, r) => {
  rowArr.forEach((name, c) => {
    const left = L0 + c * CW, top = T0 + r * RH;
    if (name === 'LEGEND') {
      const ly = [top + 27.5, top + 41.5, top + 55.5];
      graphics.push({type:'circle', z:5, shape:{cx:left + 33, cy:ly[0], r:3.3}, style:{fill:'#000'}});
      graphics.push({type:'line', z:5, shape:{x1:left + 18.5, y1:ly[1], x2:left + 47.5, y2:ly[1]}, style:{stroke:'#ff0000', lineWidth:2.3}});
      graphics.push({type:'line', z:5, shape:{x1:left + 27.5, y1:ly[2], x2:left + 38.5, y2:ly[2]}, style:{stroke:'#0000ff', lineWidth:2.4}});
      graphics.push({type:'line', z:5, shape:{x1:left + 33, y1:ly[2] - 5.5, x2:left + 33, y2:ly[2] + 5.5}, style:{stroke:'#0000ff', lineWidth:2.4}});
      graphics.push(txt('AERONET', left + 57.5, ly[0], 15.5, 'left'));
      graphics.push(txt('COSMO-ART', left + 57.5, ly[1], 15.5, 'left'));
      graphics.push(txt('MODIS', left + 57.5, ly[2], 15.5, 'left'));
      return;
    }
    const st = stationInfo[name];
    if (!st.aer) {
      const cx = left + CW / 2, cy = top + RH / 2 + 2;
      graphics.push(txt(name, cx, cy - 18, 16, 'center'));
      graphics.push(txt(st.coord, cx, cy, 16, 'center'));
      graphics.push(txt('no data this period', cx, cy + 18, 16, 'center'));
      return;
    }
    grids.push({left:left, top:top, width:CW, height:RH, show:true, borderColor:'#000', borderWidth:2, backgroundColor:'transparent', containLabel:false});
    const isBottom = (name === 'Le_Fauga');
    const hasY = (c === 0 && axisRows.indexOf(r) >= 0);
    xAxes.push({
      gridIndex:gi, type:'value', min:X_MIN, max:X_MAX, show:isBottom,
      axisLine:{show:false}, splitLine:{show:false},
      axisTick:{show:isBottom, customValues:xTickValues, length:12, lineStyle:{color:'#000', width:2}},
      axisLabel:{show:isBottom, customValues:xTickValues, fontSize:18, lineHeight:25, color:'#000', margin:25, fontFamily:FONT,
        formatter:function(v){ const i = xTickValues.indexOf(Math.round(v)); return i >= 0 ? xTickLabels[i] : ''; }},
      name:isBottom ? 'date' : '', nameLocation:'middle', nameGap:77,
      nameTextStyle:{fontSize:15, color:'#000', fontFamily:FONT}
    });
    yAxes.push({
      gridIndex:gi, type:'value', min:Y_MIN, max:Y_MAX, show:hasY,
      axisLine:{show:false}, splitLine:{show:false},
      axisTick:{show:hasY, customValues:yTickValues, length:12, lineStyle:{color:'#000', width:2}},
      axisLabel:{show:hasY, customValues:yTickValues, fontSize:18, color:'#000', margin:24, fontFamily:FONT,
        formatter:function(v){ let b = 0, d = 1e9; yTickValues.forEach((t, k) => { if (Math.abs(t - v) < d) { d = Math.abs(t - v); b = k; } }); return yTickLabels[b]; }}
    });
    series.push({type:'scatter', name:'AERONET', xAxisIndex:gi, yAxisIndex:gi, data:st.aer, symbol:'circle', symbolSize:6.5, itemStyle:{color:'#000', opacity:1}, silent:true, z:3});
    series.push({type:'line', name:'COSMO-ART', xAxisIndex:gi, yAxisIndex:gi, data:joinSegments(st.cos), showSymbol:false, symbol:'none', connectNulls:false, lineStyle:{color:'#ff0000', width:2.2, opacity:1}, silent:true, z:4});
    series.push({type:'scatter', name:'MODIS', xAxisIndex:gi, yAxisIndex:gi, data:st.mod, symbol:PLUS, symbolSize:11, itemStyle:{color:'#0000ff', opacity:1}, silent:true, z:5});
    graphics.push(txt(name, left + 6.5, top + 14, 13, 'left'));
    graphics.push(txt(st.coord, left + 6.5, top + 30, 13, 'left'));
    if (hasY) graphics.push(txt('AOD', 47, top - 13, 15, 'center'));
    gi++;
  });
});

const chart = echarts.init(document.getElementById('c'), null, {renderer:'canvas'});
chart.setOption({
  animation:false,
  backgroundColor:'#fff',
  textStyle:{fontFamily:FONT},
  grid:grids, xAxis:xAxes, yAxis:yAxes, series:series,
  graphic:{elements:graphics}
});
</script>
</body></html>
